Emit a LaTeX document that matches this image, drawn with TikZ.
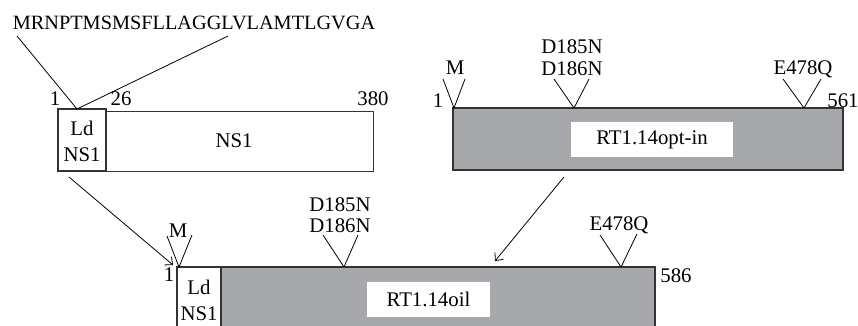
\documentclass[tikz,border=0pt]{standalone}
\usepackage{fontspec}
\setmainfont{Liberation Serif}
\usetikzlibrary{arrows.meta}
\definecolor{linec}{HTML}{333333}
\definecolor{barfill}{HTML}{A7A8AB}
\begin{document}
\begin{tikzpicture}[x=1pt,y=-1pt,
  txt/.style={font=\fontsize{20.8}{26}\selectfont, inner sep=0pt, outer sep=0pt, anchor=base, text=black},
  ctxt/.style={font=\fontsize{20.8}{26}\selectfont, inner sep=0pt, outer sep=0pt, align=center, text=black},
  conn/.style={draw=black, line width=0.8pt},
  whitebox/.style={draw=linec, line width=1pt, fill=white, inner sep=0pt, outer sep=0pt, anchor=north west},
  greybox/.style={draw=linec, line width=1.3pt, fill=barfill, inner sep=0pt, outer sep=0pt, anchor=north west},
  tag/.style={fill=white, inner sep=0pt, font=\fontsize{20.8}{26}\selectfont},
  arr/.style={conn, -{Straight Barb[length=6pt,width=11pt]}}]
\clip (0,0) rectangle (858,325);
\fill[white] (0,0) rectangle (858,325);

% ---------- top left: NS1 ----------
\node[txt, font=\fontsize{20.3}{26}\selectfont] (seq) at (194,29) {MRNPTMSMSFLLAGGLVLAMTLGVGA};
\node[whitebox, minimum width=267pt, minimum height=59.5pt] (nsA) at (106,111.5) {};
\node[whitebox, line width=1.8pt, minimum width=48pt, minimum height=62pt] (ldA) at (58,109) {};
\node[ctxt] (ldAt) at (82,141) {Ld\\NS1};
\node[ctxt] (nsAt) at (234,141) {NS1};
\coordinate (seqL) at (17,36);
\coordinate (seqR) at (228,36);
\coordinate (seqP) at (77,109);
\draw[conn] (seqL) -- (seqP) -- (seqR);
\node[txt] (nA1) at (55,105) {1};
\node[txt] (nA26) at (121,105) {26};
\node[txt] (nA380) at (373,105) {380};

% ---------- top right: RT1.14opt-in ----------
\node[greybox, minimum width=390pt, minimum height=62pt] (rtA) at (453,108) {};
\node[tag, minimum width=162pt, minimum height=35pt] (rtAl) at (652,139.5) {RT1.14opt-in};
\node[txt] (nR1) at (438,107) {1};
\node[txt] (nR561) at (843,107) {561};
\node[txt] (mA) at (455,74) {M};
\coordinate (mAp) at (454,108);
\coordinate (mAl) at (443,79);
\coordinate (mAr) at (465,79);
\draw[conn] (mAl) -- (mAp) -- (mAr);
\node[txt] (dA1) at (572,53) {D185N};
\node[txt] (dA2) at (572,75) {D186N};
\coordinate (dAp) at (574,108);
\coordinate (dAl) at (554,79);
\coordinate (dAr) at (589,79);
\draw[conn] (dAl) -- (dAp) -- (dAr);
\node[txt] (eA) at (803,74) {E478Q};
\coordinate (eAp) at (804,108);
\coordinate (eAl) at (783,79);
\coordinate (eAr) at (821,79);
\draw[conn] (eAl) -- (eAp) -- (eAr);

% ---------- bottom: RT1.14oil ----------
\node[greybox, minimum width=434pt, minimum height=70pt] (rtB) at (221,267) {};
\node[whitebox, line width=1.2pt, minimum width=44pt, minimum height=70pt] (ldB) at (177,267) {};
\node[ctxt] (ldBt) at (199,300) {Ld\\NS1};
\node[tag, minimum width=123pt, minimum height=35pt] (rtBl) at (428.5,299.5) {RT1.14oil};
\node[txt] (nB1) at (169,281) {1};
\node[txt] (nB586) at (676,282) {586};
\node[txt] (mB) at (178,237) {M};
\coordinate (mBp) at (179,267);
\coordinate (mBl) at (167,236);
\coordinate (mBr) at (192,235);
\draw[conn] (mBl) -- (mBp) -- (mBr);
\node[txt] (dB1) at (340,211) {D185N};
\node[txt] (dB2) at (340,232) {D186N};
\coordinate (dBp) at (344,267);
\coordinate (dBl) at (323,235);
\coordinate (dBr) at (358,235);
\draw[conn] (dBl) -- (dBp) -- (dBr);
\node[txt] (eB) at (619,230) {E478Q};
\coordinate (eBp) at (621,267);
\coordinate (eBl) at (600,235);
\coordinate (eBr) at (637,234);
\draw[conn] (eBl) -- (eBp) -- (eBr);

% ---------- arrows ----------
\coordinate (a1s) at (69,177);
\coordinate (a1e) at (173,265);
\draw[arr] (a1s) -- (a1e);
\coordinate (a2s) at (564,177);
\coordinate (a2e) at (495,261);
\draw[arr] (a2s) -- (a2e);
\end{tikzpicture}
\end{document}
